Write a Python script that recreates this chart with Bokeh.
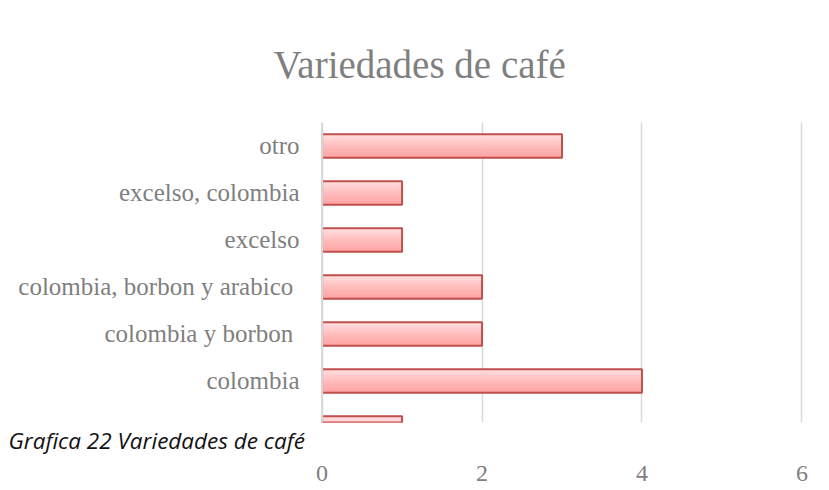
from bokeh.plotting import figure
from bokeh.models import (ColumnDataSource, Span, Title, Range1d, LinearAxis,
                          FixedTicker)
from bokeh.transform import dodge
from bokeh.embed import file_html
from bokeh.resources import INLINE

# ---- data ----
categories = ["Arabica", "colombia", "colombia y borbon ", "colombia, borbon y arabico ",
              "excelso", "excelso, colombia", "otro"]
counts = [1, 4, 2, 2, 1, 1, 3]
x_ticks = [0, 2, 4, 6]
title_text = "Variedades de café"
caption_text = "Grafica  22 Variedades de café"

GRAY = "#7f7f7f"
GRID = "#d9d9d9"
SERIF = "Liberation Serif"

ypos = list(range(len(categories)))
src = ColumnDataSource(dict(y=ypos, val=counts))

p = figure(width=829, height=490,
           x_range=Range1d(-0.02, 6.02), y_range=Range1d(0.117, 6.5),
           output_backend="svg", toolbar_location=None,
           x_axis_location=None,
           min_border_left=320, min_border_right=26,
           min_border_top=122, min_border_bottom=68)
p.outline_line_color = None

# title
p.title.text = title_text
p.title.align = "left"
p.title.offset = -47
p.title.standoff = 74
p.title.text_font = SERIF
p.title.text_font_style = "normal"
p.title.text_font_size = "39px"
p.title.text_color = GRAY

# gradient bars built from strips
N = 12
bar_h = 0.5
top = (255, 220, 220)
bot = (255, 162, 162)
for k in range(N):
    t = k / (N - 1)
    c = tuple(int(round(top[i] + (bot[i] - top[i]) * t)) for i in range(3))
    col = "#%02x%02x%02x" % c
    off = bar_h / 2 - (k + 0.5) * bar_h / N
    p.hbar(y=dodge("y", off), left=0, right="val",
           height=bar_h / N, fill_color=col, line_color=col, line_width=0.6, source=src)
p.hbar(y="y", left=0, right="val", height=bar_h, fill_color=None,
       line_color="#c0504d", line_width=2, source=src)

p.add_layout(Span(location=0, dimension="height", line_color=GRID, line_width=2))

# grid
p.xgrid.ticker = FixedTicker(ticks=x_ticks)
p.xgrid.grid_line_color = GRID
p.xgrid.grid_line_width = 1.5
p.ygrid.grid_line_color = None

# y axis with category names
ya = p.yaxis[0]
ya.ticker = FixedTicker(ticks=ypos)
ya.major_label_overrides = {i: c for i, c in zip(ypos, categories)}
ya.major_label_text_font_size = "25px"
ya.major_label_standoff = 21

# caption (below the frame, nearest to it)
cap = Title(text=caption_text, align="left", offset=-312, standoff=0,
            text_font="Open Sans", text_font_style="italic", text_font_size="22.5px",
            text_color="#111111")
p.add_layout(cap, "below")

# x axis below the caption
xa = LinearAxis(ticker=FixedTicker(ticks=x_ticks))
xa.major_label_text_font_size = "24px"
xa.major_label_standoff = 10
p.add_layout(xa, "below")

for ax in (xa, ya):
    ax.axis_line_color = None
    ax.major_tick_line_color = None
    ax.minor_tick_line_color = None
    ax.major_tick_out = 0
    ax.major_tick_in = 0
    ax.major_label_text_font = SERIF
    ax.major_label_text_color = GRAY

open("out.html", "w").write(file_html(p, INLINE))
